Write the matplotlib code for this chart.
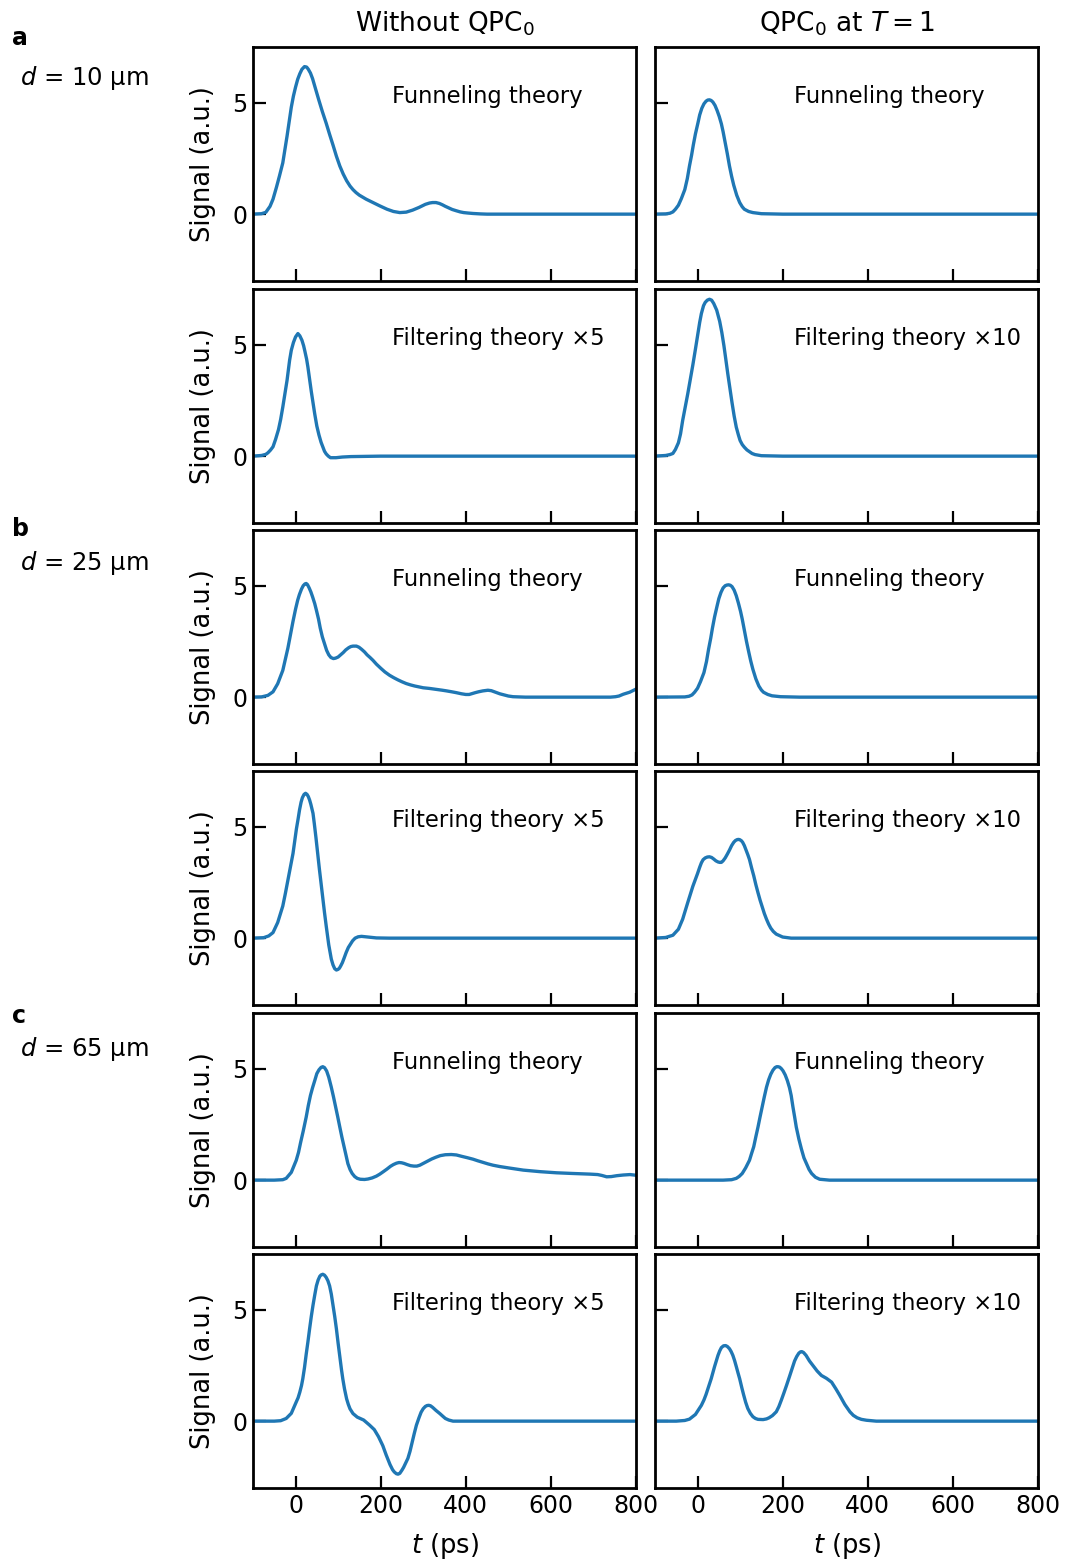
import matplotlib
matplotlib.use("Agg")
import matplotlib.pyplot as plt

# --- data: time (ps) and signal (a.u.) ---

# a, d = 10 um
a_fun_left_t = [-100, -80, -70, -60, -53, -45, -38, -30, -25, -20, -15, -10, -5, 0, 5, 10, 15, 21, 26, 30, 35, 40, 47, 55,
                63, 72, 80, 88, 96, 104, 112, 120, 128, 135, 142, 150, 158, 166, 182, 198, 215, 230, 245, 260, 275, 290,
                305, 315, 322, 330, 338, 345, 352, 360, 368, 378, 387, 395, 405, 417, 435, 450, 800]
a_fun_left_v = [0, 0.02, 0.08, 0.35, 0.67, 1.2, 1.7, 2.3, 2.9, 3.5, 4.15, 4.8, 5.3, 5.7, 6.05, 6.3, 6.5, 6.62, 6.6, 6.5, 6.33, 6.08, 5.62, 5.1,
                4.6, 4.08, 3.58, 3.1, 2.6, 2.16, 1.8, 1.5, 1.26, 1.1, 0.97, 0.85, 0.76, 0.67, 0.52, 0.37, 0.22, 0.12, 0.07, 0.09, 0.18, 0.3,
                0.44, 0.5, 0.52, 0.52, 0.48, 0.42, 0.35, 0.28, 0.21, 0.15, 0.1, 0.07, 0.05, 0.03, 0.01, 0, 0]

a_fun_right_t = [-100, -75, -65, -58, -52, -45, -38, -30, -24, -19, -14, -10, -5, 1, 5, 10, 15, 20, 24, 28, 32, 36, 41, 46,
                 51, 56, 60, 65, 70, 75, 80, 85, 92, 99, 105, 110, 120, 130, 150, 200, 800]
a_fun_right_v = [0, 0.01, 0.04, 0.1, 0.22, 0.4, 0.7, 1.1, 1.6, 2.16, 2.65, 3.1, 3.6, 4.1, 4.45, 4.75, 4.95, 5.07, 5.12, 5.13, 5.1, 5.03, 4.88, 4.65,
                 4.38, 4.05, 3.7, 3.2, 2.7, 2.16, 1.7, 1.3, 0.85, 0.52, 0.33, 0.22, 0.12, 0.07, 0.02, 0, 0]

a_fil_left_t = [-100, -80, -70, -65, -59, -53, -47, -40, -35, -30, -25, -20, -14, -10, -5, 0, 5.5, 10, 15, 19, 22, 26, 29,
                33, 37, 41, 45, 50, 55, 60, 64, 68, 72, 77, 82, 95, 110, 130, 200, 800]
a_fil_left_v = [0, 0.03, 0.08, 0.15, 0.27, 0.42, 0.75, 1.2, 1.65, 2.2, 2.8, 3.4, 4.3, 4.75, 5.1, 5.35, 5.5, 5.4, 5.2, 4.95, 4.7, 4.35, 4.0,
                3.45, 2.9, 2.4, 1.9, 1.35, 0.95, 0.62, 0.42, 0.22, 0.1, 0.0, -0.07, -0.07, -0.04, -0.02, 0, 0]

a_fil_right_t = [-100, -75, -65, -58, -52, -45, -40, -35, -29, -23, -17, -11, -5, 0, 5, 9, 14, 18, 23, 28, 33, 38, 45, 52,
                 57, 62, 66, 71, 76, 81, 86, 91, 96, 100, 105, 110, 116, 122, 128, 135, 150, 200, 800]
a_fil_right_v = [0, 0.03, 0.07, 0.12, 0.3, 0.6, 1.0, 1.6, 2.2, 2.8, 3.45, 4.1, 4.8, 5.4, 6.0, 6.4, 6.75, 6.9, 7.0, 7.04, 7.0, 6.85, 6.55, 6.05,
                 5.55, 4.95, 4.4, 3.7, 3.05, 2.4, 1.8, 1.3, 0.95, 0.7, 0.52, 0.4, 0.28, 0.2, 0.12, 0.07, 0.02, 0, 0]

# b, d = 25 um
b_fun_left_t = [-100, -80, -65, -53, -42, -30, -18, -12, -6, 0, 5, 9, 14, 18, 22, 25, 28, 32, 36, 40, 45, 49, 54, 58, 63,
                68, 73, 78, 83, 89, 94, 100, 106, 112, 118, 125, 130, 135, 143, 149, 155, 162, 168, 175, 182, 190, 200,
                210, 221, 230, 240, 250, 260, 270, 280, 290, 300, 315, 330, 345, 355, 367, 378, 390, 400, 408, 415, 422,
                430, 440, 452, 460, 470, 480, 490, 500, 511, 525, 540, 740, 752, 760, 770, 785, 800]
b_fun_left_v = [0, 0.01, 0.08, 0.24, 0.6, 1.2, 2.2, 2.8, 3.4, 3.95, 4.35, 4.6, 4.85, 5.0, 5.08, 5.1, 5.05, 4.9, 4.72, 4.5, 4.2, 3.9, 3.5, 3.1, 2.7,
                2.4, 2.1, 1.9, 1.78, 1.73, 1.75, 1.8, 1.9, 2.0, 2.12, 2.22, 2.27, 2.29, 2.29, 2.24, 2.15, 2.03, 1.9, 1.78, 1.65, 1.48, 1.3,
                1.13, 0.98, 0.88, 0.78, 0.69, 0.61, 0.55, 0.5, 0.46, 0.42, 0.39, 0.35, 0.31, 0.28, 0.24, 0.2, 0.15, 0.12, 0.12, 0.16, 0.2,
                0.24, 0.28, 0.31, 0.29, 0.22, 0.15, 0.1, 0.05, 0.02, 0.01, 0, 0, 0.02, 0.05, 0.13, 0.22, 0.36]

b_fun_right_t = [-100, -30, -20, -13, -7, 0, 7, 15, 21, 26, 31, 35, 40, 46, 50, 55, 60, 65, 69, 73, 77, 81, 86, 91,
                 96, 101, 105, 110, 115, 120, 125, 130, 137, 144, 150, 155, 165, 175, 195, 240, 800]
b_fun_right_v = [0, 0.01, 0.04, 0.1, 0.22, 0.4, 0.7, 1.1, 1.6, 2.16, 2.65, 3.1, 3.6, 4.1, 4.42, 4.7, 4.9, 5.0, 5.03, 5.04, 5.02, 4.96, 4.8, 4.55,
                 4.22, 3.85, 3.5, 3.0, 2.5, 2.05, 1.62, 1.25, 0.82, 0.5, 0.32, 0.22, 0.12, 0.06, 0.02, 0, 0]

b_fil_left_t = [-100, -75, -63, -53, -42, -30, -24, -18, -12, -6, -2, 2, 6, 9.4, 13, 16, 20, 23.5, 27, 30, 33, 36, 41, 44,
                48, 52, 56, 60, 64, 68, 72, 78, 84, 88, 92, 96, 100, 103, 106, 110, 114, 119, 124, 128, 134, 140, 147,
                155, 170, 190, 220, 800]
b_fil_left_v = [0, 0.02, 0.1, 0.25, 0.7, 1.44, 2.0, 2.6, 3.2, 3.8, 4.35, 4.9, 5.35, 5.76, 6.1, 6.3, 6.45, 6.5, 6.45, 6.35, 6.2, 6.0, 5.6, 5.15,
                4.5, 3.8, 3.1, 2.45, 1.8, 1.15, 0.55, -0.3, -0.94, -1.2, -1.37, -1.43, -1.4, -1.35, -1.25, -1.1, -0.9, -0.64, -0.42, -0.3, -0.12, 0.0, 0.06,
                0.08, 0.05, 0.01, 0, 0]

b_fil_right_t = [-100, -75, -58, -45, -35, -23, -11, 0, 5, 9, 13, 18, 23, 28, 33, 38, 43, 48, 52, 56, 60, 65, 70, 75, 80,
                 85, 89, 93, 96, 99, 103, 106, 110, 114, 118, 122, 127, 132, 137, 142, 147, 152, 157, 162, 167, 172, 178,
                 185, 200, 220, 800]
b_fil_right_v = [0, 0.03, 0.13, 0.4, 0.85, 1.6, 2.33, 2.9, 3.18, 3.38, 3.52, 3.6, 3.64, 3.65, 3.62, 3.55, 3.47, 3.42, 3.4, 3.4, 3.47, 3.6, 3.77, 3.95, 4.15,
                 4.3, 4.38, 4.42, 4.43, 4.42, 4.37, 4.3, 4.15, 3.95, 3.75, 3.53, 3.15, 2.8, 2.4, 2.04, 1.7, 1.4, 1.1, 0.85, 0.63, 0.45, 0.3,
                 0.18, 0.05, 0, 0]

# c, d = 65 um
c_fun_left_t = [-100, -50, -30, -22, -10, 1.6, 7, 12, 18, 25, 30, 35, 40, 45, 50, 55, 60, 64, 68, 73, 78, 84, 89, 94, 99,
                104, 109, 114, 119, 123, 128, 133, 139, 145, 152, 162, 170, 180, 190, 198, 207, 215, 223, 230, 237, 243,
                249, 255, 262, 270, 278, 285, 292, 300, 310, 320, 330, 340, 352, 366, 378, 390, 403, 417, 428, 440, 452,
                464, 480, 500, 535, 575, 613, 650, 692, 710, 720, 731, 742, 755, 770, 786, 800]
c_fun_left_v = [0, 0, 0.02, 0.08, 0.35, 0.89, 1.25, 1.7, 2.2, 2.83, 3.35, 3.8, 4.15, 4.46, 4.78, 4.95, 5.06, 5.09, 5.05, 4.9, 4.62, 4.17, 3.75, 3.3, 2.85,
                2.38, 1.92, 1.5, 1.08, 0.74, 0.48, 0.3, 0.16, 0.08, 0.04, 0.03, 0.05, 0.1, 0.18, 0.27, 0.39, 0.5, 0.62, 0.7, 0.76, 0.79,
                0.78, 0.75, 0.7, 0.65, 0.63, 0.63, 0.67, 0.75, 0.85, 0.95, 1.03, 1.1, 1.14, 1.15, 1.13, 1.07, 1.01, 0.94, 0.87, 0.8, 0.73,
                0.67, 0.61, 0.55, 0.45, 0.38, 0.33, 0.3, 0.27, 0.25, 0.21, 0.15, 0.16, 0.2, 0.23, 0.25, 0.22]

c_fun_right_t = [-100, 60, 80, 91, 98, 105, 113, 122, 127, 132, 137, 142, 147, 152, 157, 162, 167, 172, 177, 182, 186, 189,
                 193, 197, 201, 206, 211, 216, 220, 224, 228, 232, 238, 244, 250, 256, 262, 268, 277, 287, 310, 800]
c_fun_right_v = [0, 0, 0.02, 0.08, 0.17, 0.3, 0.55, 0.89, 1.2, 1.5, 1.95, 2.38, 2.85, 3.3, 3.75, 4.17, 4.5, 4.75, 4.93, 5.05, 5.09, 5.09,
                 5.07, 5.0, 4.9, 4.72, 4.47, 4.15, 3.8, 3.3, 2.85, 2.38, 1.85, 1.4, 1.0, 0.74, 0.48, 0.3, 0.13, 0.04, 0, 0]

c_fil_left_t = [-100, -50, -35, -22, -10, 1.6, 6, 10, 14, 17, 21, 25, 29, 33, 37, 41, 45, 49, 53, 57, 60, 64, 68, 72, 76,
                80, 84, 88, 92, 96, 100, 104, 108, 111, 115, 120, 124, 128, 135, 145, 160, 174, 185, 195, 205, 213, 222,
                228, 232, 237, 241, 245, 250, 254, 257, 264, 269, 274, 279, 284, 290, 295, 300, 305, 309, 313, 317, 322,
                330, 339, 346, 352, 360, 370, 800]
c_fil_left_v = [0, 0, 0.02, 0.12, 0.35, 0.86, 1.05, 1.3, 1.6, 1.9, 2.4, 3.0, 3.55, 4.14, 4.7, 5.2, 5.65, 6.07, 6.33, 6.5, 6.56, 6.59, 6.55, 6.45, 6.3,
                6.07, 5.7, 5.2, 4.7, 4.14, 3.5, 2.9, 2.3, 1.9, 1.45, 1.0, 0.75, 0.55, 0.34, 0.18, 0.05, -0.18, -0.38, -0.7, -1.1, -1.52, -1.95,
                -2.18, -2.28, -2.36, -2.38, -2.34, -2.2, -2.07, -1.95, -1.67, -1.35, -0.95, -0.55, -0.18, 0.15, 0.4, 0.56, 0.66, 0.7, 0.71, 0.69, 0.62,
                0.48, 0.34, 0.22, 0.12, 0.05, 0, 0]

c_fil_right_t = [-100, -50, -30, -19, -5, 9, 15, 20, 26, 32, 40, 48, 52, 56, 61, 66, 70, 75, 79, 83, 87, 91, 95, 99, 104,
                 108, 113, 118, 124, 130, 136, 142, 154, 162, 168, 176, 185, 191, 197, 203, 209, 216, 222, 228, 233, 238,
                 242, 245, 249, 255, 263, 271, 281, 291, 303, 315, 325, 334, 346, 358, 366, 375, 385, 397, 420, 800]
c_fil_right_v = [0, 0, 0.03, 0.09, 0.3, 0.71, 0.95, 1.2, 1.55, 1.9, 2.45, 2.95, 3.15, 3.3, 3.38, 3.39, 3.35, 3.25, 3.12, 2.95, 2.72, 2.45, 2.17, 1.9, 1.5,
                 1.2, 0.85, 0.57, 0.35, 0.2, 0.12, 0.08, 0.07, 0.1, 0.15, 0.25, 0.42, 0.65, 0.95, 1.27, 1.6, 2.0, 2.35, 2.7, 2.9, 3.05,
                 3.11, 3.12, 3.08, 2.95, 2.7, 2.5, 2.25, 2.05, 1.92, 1.75, 1.45, 1.16, 0.75, 0.42, 0.26, 0.15, 0.08, 0.04, 0, 0]

rows = [
    (a_fun_left_t, a_fun_left_v, a_fun_right_t, a_fun_right_v, "Funneling theory", "Funneling theory"),
    (a_fil_left_t, a_fil_left_v, a_fil_right_t, a_fil_right_v, "Filtering theory \u00d75", "Filtering theory \u00d710"),
    (b_fun_left_t, b_fun_left_v, b_fun_right_t, b_fun_right_v, "Funneling theory", "Funneling theory"),
    (b_fil_left_t, b_fil_left_v, b_fil_right_t, b_fil_right_v, "Filtering theory \u00d75", "Filtering theory \u00d710"),
    (c_fun_left_t, c_fun_left_v, c_fun_right_t, c_fun_right_v, "Funneling theory", "Funneling theory"),
    (c_fil_left_t, c_fil_left_v, c_fil_right_t, c_fil_right_v, "Filtering theory \u00d75", "Filtering theory \u00d710"),
]

panel_letters = ["a", "b", "c"]
distances = ["$d$ = 10 \u03bcm", "$d$ = 25 \u03bcm", "$d$ = 65 \u03bcm"]

W, H = 1070, 1563
fig = plt.figure(figsize=(W / 100, H / 100), dpi=100)

col_left = [253, 655]
col_w = 383
row_top = [47, 289, 530, 771, 1013, 1254]
row_h = 234

for r, (tl, vl, tr, vr, lab_l, lab_r) in enumerate(rows):
    for c in range(2):
        x0 = col_left[c] / W
        y0 = 1 - (row_top[r] + row_h) / H
        ax = fig.add_axes([x0, y0, col_w / W, row_h / H])
        t, v = (tl, vl) if c == 0 else (tr, vr)
        ax.plot(t, v, color="#1f77b4", lw=2.4)
        ax.set_xlim(-100, 800)
        ax.set_ylim(-3, 7.5)
        ax.set_xticks([0, 200, 400, 600, 800])
        ax.set_yticks([0, 5])
        ax.tick_params(direction="in", length=9, width=1.6, labelsize=17, pad=4)
        for s in ax.spines.values():
            s.set_linewidth(2.0)
        if r < 5:
            ax.tick_params(labelbottom=False)
        else:
            ax.set_xlabel("$t$ (ps)", fontsize=18.5, labelpad=10)
        if c == 0:
            ax.set_ylabel("Signal (a.u.)", fontsize=18.5, labelpad=12)
        else:
            ax.tick_params(labelleft=False)
        ax.text(0.363, 0.79, lab_l if c == 0 else lab_r, transform=ax.transAxes,
                ha="left", va="center", fontsize=16.3)
        if r == 0:
            ax.set_title("Without QPC$_0$" if c == 0 else "QPC$_0$ at $T = 1$", fontsize=19, pad=11)

letter_y = [38, 529, 1016]
dist_y = [78, 563, 1049]
for i in range(3):
    fig.text(12 / W, 1 - letter_y[i] / H, panel_letters[i], fontsize=17, fontweight="bold", va="center")
    fig.text(20 / W, 1 - dist_y[i] / H, distances[i], fontsize=17.5, va="center")

fig.savefig("out.png", dpi=100)
